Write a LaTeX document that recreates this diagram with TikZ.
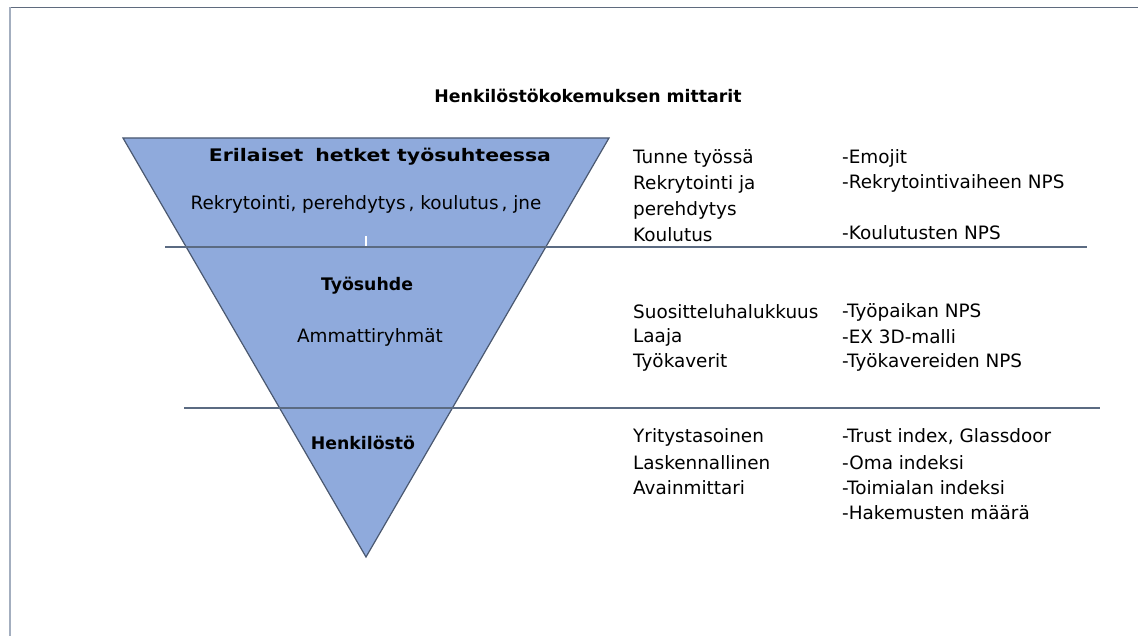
\documentclass[tikz,border=0pt]{standalone}
\usepackage{fontspec}
\setmainfont{DejaVu Sans}
\definecolor{trifill}{HTML}{8FAADC}
\definecolor{triedge}{HTML}{4A5870}
\definecolor{sepline}{HTML}{5B6B82}
\definecolor{frametop}{HTML}{5F6B7E}
\definecolor{frameleft}{HTML}{A3AEBF}
\begin{document}
\begin{tikzpicture}[x=1pt,y=-1pt,
  lbl/.style={inner sep=0pt, font=\fontsize{18.4}{22}\selectfont},
  bold/.style={inner sep=0pt, font=\fontsize{17.3}{21}\selectfont\bfseries},
  col/.style={lbl, anchor=west}]
\useasboundingbox (0,0) rectangle (1138,636);
\fill[white] (0,0) rectangle (1138,636);
% frame
\draw[frametop, line width=1.2pt] (9,7.5) -- (1138,7.5);
\draw[frameleft, line width=1.5pt] (10,7.5) -- (10,636);
% funnel
\coordinate (tl) at (123,138);
\coordinate (tr) at (609,138);
\coordinate (apex) at (366,557);
\fill[trifill] (tl) -- (tr) -- (apex) -- cycle;
\draw[triedge, line width=1.2pt, line join=miter] (tl) -- (tr) -- (apex) -- cycle;
% separators
\coordinate (s1a) at (165,247);
\coordinate (s1b) at (1087,247);
\coordinate (s2a) at (184,408);
\coordinate (s2b) at (1100,408);
\draw[sepline, line width=1.2pt] (s1a) -- (s1b);
\draw[sepline, line width=1.2pt] (s2a) -- (s2b);
\coordinate (tk1) at (366,236);
\coordinate (tk2) at (366,246);
\draw[white, line width=1.2pt] (tk1) -- (tk2);
% title
\node[bold] (title) at (588,96) {Henkilöstökokemuksen mittarit};
% funnel labels
\node[bold] (l1) at (380,157) {\scalebox{1.18}[1]{Erilaiset\kern4pt\ hetket työsuhteessa}};
\node[lbl] (l1b) at (366,204) {Rekrytointi, perehdytys\,, koulutus\,, jne};
\node[bold] (l2) at (367,286) {Työsuhde};
\node[lbl] (l2b) at (370,337) {Ammattiryhmät};
\node[bold] (l3) at (363,443) {Henkilöstö};
% column 1
\node[col] (a1) at (633,158) {Tunne työssä};
\node[col] (a2) at (633,184) {Rekrytointi ja};
\node[col] (a3) at (633,210) {perehdytys};
\node[col] (a4) at (633,235) {Koulutus};
\node[col] (b1) at (633,312) {Suositteluhalukkuus};
\node[col] (b2) at (633,337) {Laaja};
\node[col] (b3) at (633,362) {Työkaverit};
\node[col] (c1) at (633,437) {Yritystasoinen};
\node[col] (c2) at (633,463) {Laskennallinen};
\node[col] (c3) at (633,488) {Avainmittari};
% column 2
\node[col] (d1) at (842,158) {-Emojit};
\node[col] (d2) at (842,183) {-Rekrytointivaiheen NPS};
\node[col] (d3) at (842,233) {-Koulutusten NPS};
\node[col] (e1) at (842,312) {-Työpaikan NPS};
\node[col] (e2) at (842,337) {-EX 3D-malli};
\node[col] (e3) at (842,362) {-Työkavereiden NPS};
\node[col] (f1) at (842,437) {-Trust index, Glassdoor};
\node[col] (f2) at (842,463) {-Oma indeksi};
\node[col] (f3) at (842,488) {-Toimialan indeksi};
\node[col] (f4) at (842,513) {-Hakemusten määrä};
\end{tikzpicture}
\end{document}
